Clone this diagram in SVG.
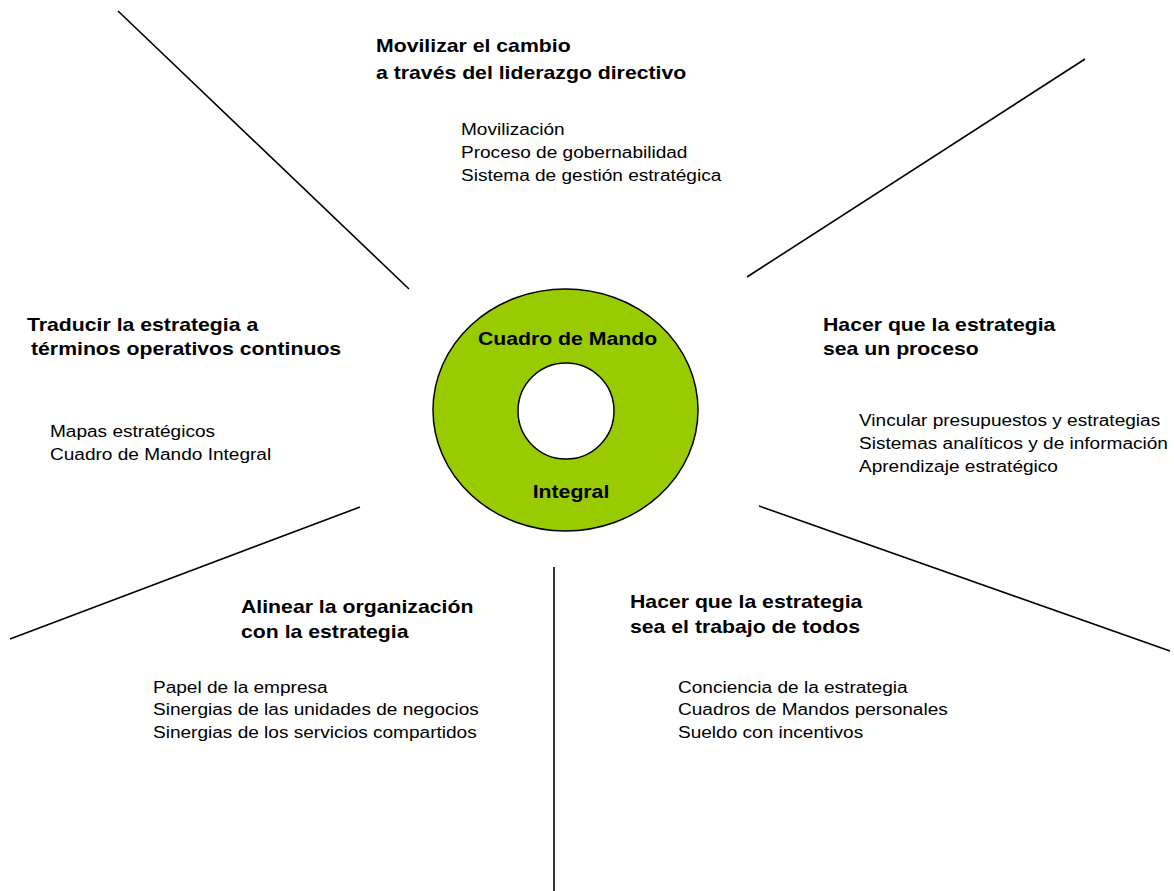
<svg xmlns="http://www.w3.org/2000/svg" width="1174" height="891" viewBox="0 0 1174 891">
<style>
.h{font-family:"Liberation Sans",Arial,sans-serif;font-weight:bold;font-size:18px;fill:#000}
.t{font-family:"Liberation Sans",Arial,sans-serif;font-size:16px;fill:#000}
.c{font-family:"Liberation Sans",Arial,sans-serif;font-weight:bold;font-size:18px;fill:#000;text-anchor:middle}
.ln{stroke:#000;stroke-width:1.6;fill:none}
</style>
<rect width="1174" height="891" fill="#fff"/>
<g id="connectors">
<line class="ln" x1="118" y1="11" x2="409" y2="289"/>
<line class="ln" x1="1085" y1="59" x2="747" y2="277"/>
<line class="ln" x1="360" y1="507" x2="10" y2="639"/>
<line class="ln" x1="554" y1="567" x2="554" y2="891"/>
<line class="ln" x1="759" y1="506" x2="1170" y2="651"/>
</g>
<g id="center">
<ellipse cx="565.5" cy="410" rx="132.5" ry="121" fill="#99cc00" stroke="#000" stroke-width="1.5"/>
<circle cx="566" cy="411" r="48" fill="#fff" stroke="#000" stroke-width="1.5"/>
<text class="c" transform="matrix(1.18 0 0 1 567.5 345)">Cuadro de Mando</text>
<text class="c" transform="matrix(1.18 0 0 1 571 498)">Integral</text>
</g>
<g id="top">
<text class="h" transform="matrix(1.18 0 0 1 376 52)">Movilizar el cambio</text>
<text class="h" transform="matrix(1.18 0 0 1 376 79)">a través del liderazgo directivo</text>
<text class="t" transform="matrix(1.19 0 0 1 461 135)">Movilización</text>
<text class="t" transform="matrix(1.19 0 0 1 461 158)">Proceso de gobernabilidad</text>
<text class="t" transform="matrix(1.19 0 0 1 461 181)">Sistema de gestión estratégica</text>
</g>
<g id="left">
<text class="h" transform="matrix(1.18 0 0 1 27 331)">Traducir la estrategia a</text>
<text class="h" transform="matrix(1.18 0 0 1 31 355)">términos operativos continuos</text>
<text class="t" transform="matrix(1.19 0 0 1 50 437)">Mapas estratégicos</text>
<text class="t" transform="matrix(1.19 0 0 1 50 460)">Cuadro de Mando Integral</text>
</g>
<g id="right">
<text class="h" transform="matrix(1.18 0 0 1 823 331)">Hacer que la estrategia</text>
<text class="h" transform="matrix(1.18 0 0 1 823 355)">sea un proceso</text>
<text class="t" transform="matrix(1.19 0 0 1 859 426)">Vincular presupuestos y estrategias</text>
<text class="t" transform="matrix(1.19 0 0 1 859 449)">Sistemas analíticos y de información</text>
<text class="t" transform="matrix(1.19 0 0 1 859 472)">Aprendizaje estratégico</text>
</g>
<g id="bottom-left">
<text class="h" transform="matrix(1.18 0 0 1 241 613)">Alinear la organización</text>
<text class="h" transform="matrix(1.18 0 0 1 241 638)">con la estrategia</text>
<text class="t" transform="matrix(1.19 0 0 1 153 693)">Papel de la empresa</text>
<text class="t" transform="matrix(1.19 0 0 1 153 715)">Sinergias de las unidades de negocios</text>
<text class="t" transform="matrix(1.19 0 0 1 153 738)">Sinergias de los servicios compartidos</text>
</g>
<g id="bottom-right">
<text class="h" transform="matrix(1.18 0 0 1 630 608)">Hacer que la estrategia</text>
<text class="h" transform="matrix(1.18 0 0 1 630 633)">sea el trabajo de todos</text>
<text class="t" transform="matrix(1.19 0 0 1 678 693)">Conciencia de la estrategia</text>
<text class="t" transform="matrix(1.19 0 0 1 678 715)">Cuadros de Mandos personales</text>
<text class="t" transform="matrix(1.19 0 0 1 678 738)">Sueldo con incentivos</text>
</g>
</svg>
